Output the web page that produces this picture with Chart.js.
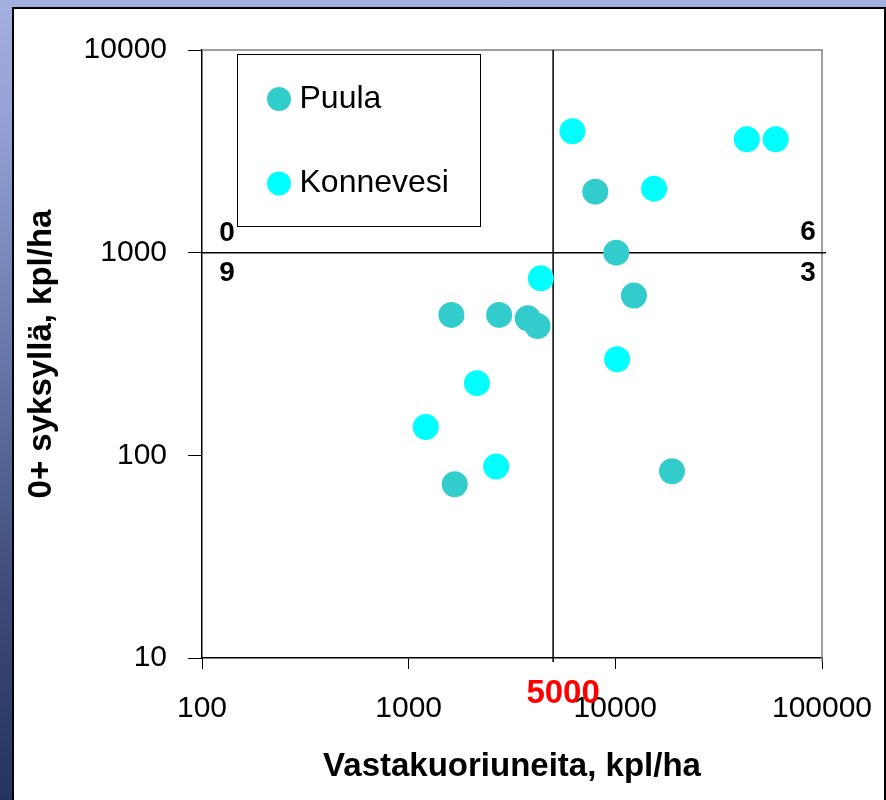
<!DOCTYPE html>
<html>
<head>
<meta charset="utf-8">
<script src="https://cdn.jsdelivr.net/npm/chart.js@4"></script>
<style>
  html, body { margin: 0; padding: 0; }
  body {
    width: 886px; height: 800px; overflow: hidden; position: relative;
    background: linear-gradient(to bottom, #a2afdf 0%, #95a3d6 14%, #6676a8 45%, #3b4a78 75%, #26335e 100%);
  }
  #panel {
    position: absolute; left: 12px; top: 7px; width: 870px; height: 800px;
    background: #fff; border: 2px solid #000; border-bottom: none;
  }
  #chart { position: absolute; left: 0; top: 0; }
</style>
</head>
<body>
<div id="panel"></div>
<canvas id="chart" width="886" height="800"></canvas>
<script>
// arvot luettu kuvasta
const puulaX = [8000, 10100, 12300, 1610, 2740, 3770, 4200, 18800, 1670];
const puulaY = [2000, 1000, 614, 493, 493, 475, 435, 83.5, 72];
const konnevesiX = [6200, 43300, 59700, 15400, 4360, 10200, 2140, 1210, 2650];
const konnevesiY = [3970, 3630, 3630, 2070, 747, 298, 227, 138, 88];

const seriesNames = ["Puula", "Konnevesi"];
const xTicks = [100, 1000, 10000, 100000];
const yTicks = [10, 100, 1000, 10000];
const xLimit = 5000;   // pystyviiva
const yLimit = 1000;   // vaakaviiva
const quadrantLabels = ["0", "9", "6", "3"]; // vasen ylä, vasen ala, oikea ylä, oikea ala

const FONT = '"Liberation Sans", Arial, sans-serif';
Chart.defaults.font.family = FONT;
Chart.defaults.color = "#000";

function toPoints(xs, ys) {
  return xs.map((x, i) => ({ x: x, y: ys[i] }));
}

const overlayPlugin = {
  id: "overlay",
  beforeDatasetsDraw(chart) {
    const { ctx, chartArea: a, scales } = chart;
    ctx.save();
    // harmaa kehys ylhäällä ja oikealla
    ctx.strokeStyle = "#808080";
    ctx.lineWidth = 1.5;
    ctx.beginPath();
    ctx.moveTo(a.left, a.top);
    ctx.lineTo(a.right, a.top);
    ctx.lineTo(a.right, a.bottom + 4);
    ctx.stroke();
    // rajaviivat
    const vx = scales.x.getPixelForValue(xLimit);
    const hy = scales.y.getPixelForValue(yLimit);
    ctx.strokeStyle = "#000";
    ctx.lineWidth = 1.5;
    ctx.beginPath();
    ctx.moveTo(vx, a.top);
    ctx.lineTo(vx, a.bottom + 4);
    ctx.moveTo(a.left, hy);
    ctx.lineTo(a.right + 4, hy);
    ctx.stroke();
    ctx.restore();
  },
  afterDatasetsDraw(chart) {
    const { ctx, chartArea: a, scales } = chart;
    const vx = scales.x.getPixelForValue(xLimit);
    const hy = scales.y.getPixelForValue(yLimit);
    ctx.save();
    // neljännesten numerot
    ctx.font = "bold 28px " + FONT;
    ctx.fillStyle = "#000";
    ctx.textAlign = "center";
    ctx.textBaseline = "middle";
    ctx.fillText(quadrantLabels[0], a.left + 25, hy - 19);
    ctx.fillText(quadrantLabels[1], a.left + 25, hy + 21);
    ctx.fillText(quadrantLabels[2], a.right - 14, hy - 20);
    ctx.fillText(quadrantLabels[3], a.right - 14, hy + 21);
    // punainen 5000
    ctx.font = "bold 33px " + FONT;
    ctx.fillStyle = "#ff0000";
    ctx.fillText(String(xLimit), vx + 10, a.bottom + 36);

    // selite
    const bx = a.left + 35.5, by = a.top + 4.5;
    ctx.fillStyle = "#fff";
    ctx.fillRect(bx, by, 243, 172);
    ctx.strokeStyle = "#000";
    ctx.lineWidth = 1;
    ctx.strokeRect(bx, by, 243, 172);
    ctx.font = "32px " + FONT;
    ctx.textAlign = "left";
    chart.data.datasets.forEach((ds, i) => {
      const cy = by + 44.5 + i * 84.5;
      ctx.fillStyle = ds.backgroundColor;
      ctx.beginPath();
      ctx.arc(bx + 41.5, cy, 12, 0, Math.PI * 2);
      ctx.fill();
      ctx.fillStyle = "#000";
      ctx.fillText(ds.label, bx + 62, cy);
    });
    ctx.restore();
  }
};

new Chart(document.getElementById("chart"), {
  type: "scatter",
  data: {
    datasets: [
      {
        label: seriesNames[0],
        data: toPoints(puulaX, puulaY),
        backgroundColor: "#33cccc",
        pointRadius: 13,
        pointHoverRadius: 13,
        pointBorderWidth: 0
      },
      {
        label: seriesNames[1],
        data: toPoints(konnevesiX, konnevesiY),
        backgroundColor: "#00ffff",
        pointRadius: 13,
        pointHoverRadius: 13,
        pointBorderWidth: 0
      }
    ]
  },
  options: {
    responsive: false,
    animation: false,
    devicePixelRatio: 1,
    layout: { padding: { top: 50, right: 64, left: 0, bottom: 0 } },
    plugins: {
      legend: { display: false },
      tooltip: { enabled: false }
    },
    scales: {
      x: {
        type: "logarithmic",
        min: 100,
        max: 100000,
        afterBuildTicks: (s) => { s.ticks = xTicks.map((v) => ({ value: v })); },
        afterFit: (s) => { s.height = 142; s.paddingLeft = 0; s.paddingRight = 0; },
        ticks: {
          callback: (v) => String(v),
          font: { size: 30 },
          color: "#000",
          padding: 22,
          maxRotation: 0,
          autoSkip: false
        },
        grid: { drawOnChartArea: false, drawTicks: true, tickLength: 11, color: "#000", lineWidth: 1 },
        border: { display: true, color: "#000", width: 1.5 },
        title: {
          display: true,
          text: "Vastakuoriuneita, kpl/ha",
          font: { size: 33, weight: "bold" },
          color: "#000",
          padding: { top: 0, bottom: 13 }
        }
      },
      y: {
        type: "logarithmic",
        min: 10,
        max: 10000,
        afterBuildTicks: (s) => { s.ticks = yTicks.map((v) => ({ value: v })); },
        afterFit: (s) => { s.width = 202; s.paddingTop = 0; s.paddingBottom = 0; },
        ticks: {
          callback: (v) => String(v),
          font: { size: 30 },
          color: "#000",
          padding: 21,
          autoSkip: false
        },
        grid: { drawOnChartArea: false, drawTicks: true, tickLength: 14, color: "#000", lineWidth: 1 },
        border: { display: true, color: "#000", width: 1.5 },
        title: {
          display: true,
          text: "0+ syksyllä, kpl/ha",
          font: { size: 33, weight: "bold" },
          color: "#000",
          padding: { top: 22, bottom: 0 }
        }
      }
    }
  },
  plugins: [overlayPlugin]
});
</script>
</body>
</html>
